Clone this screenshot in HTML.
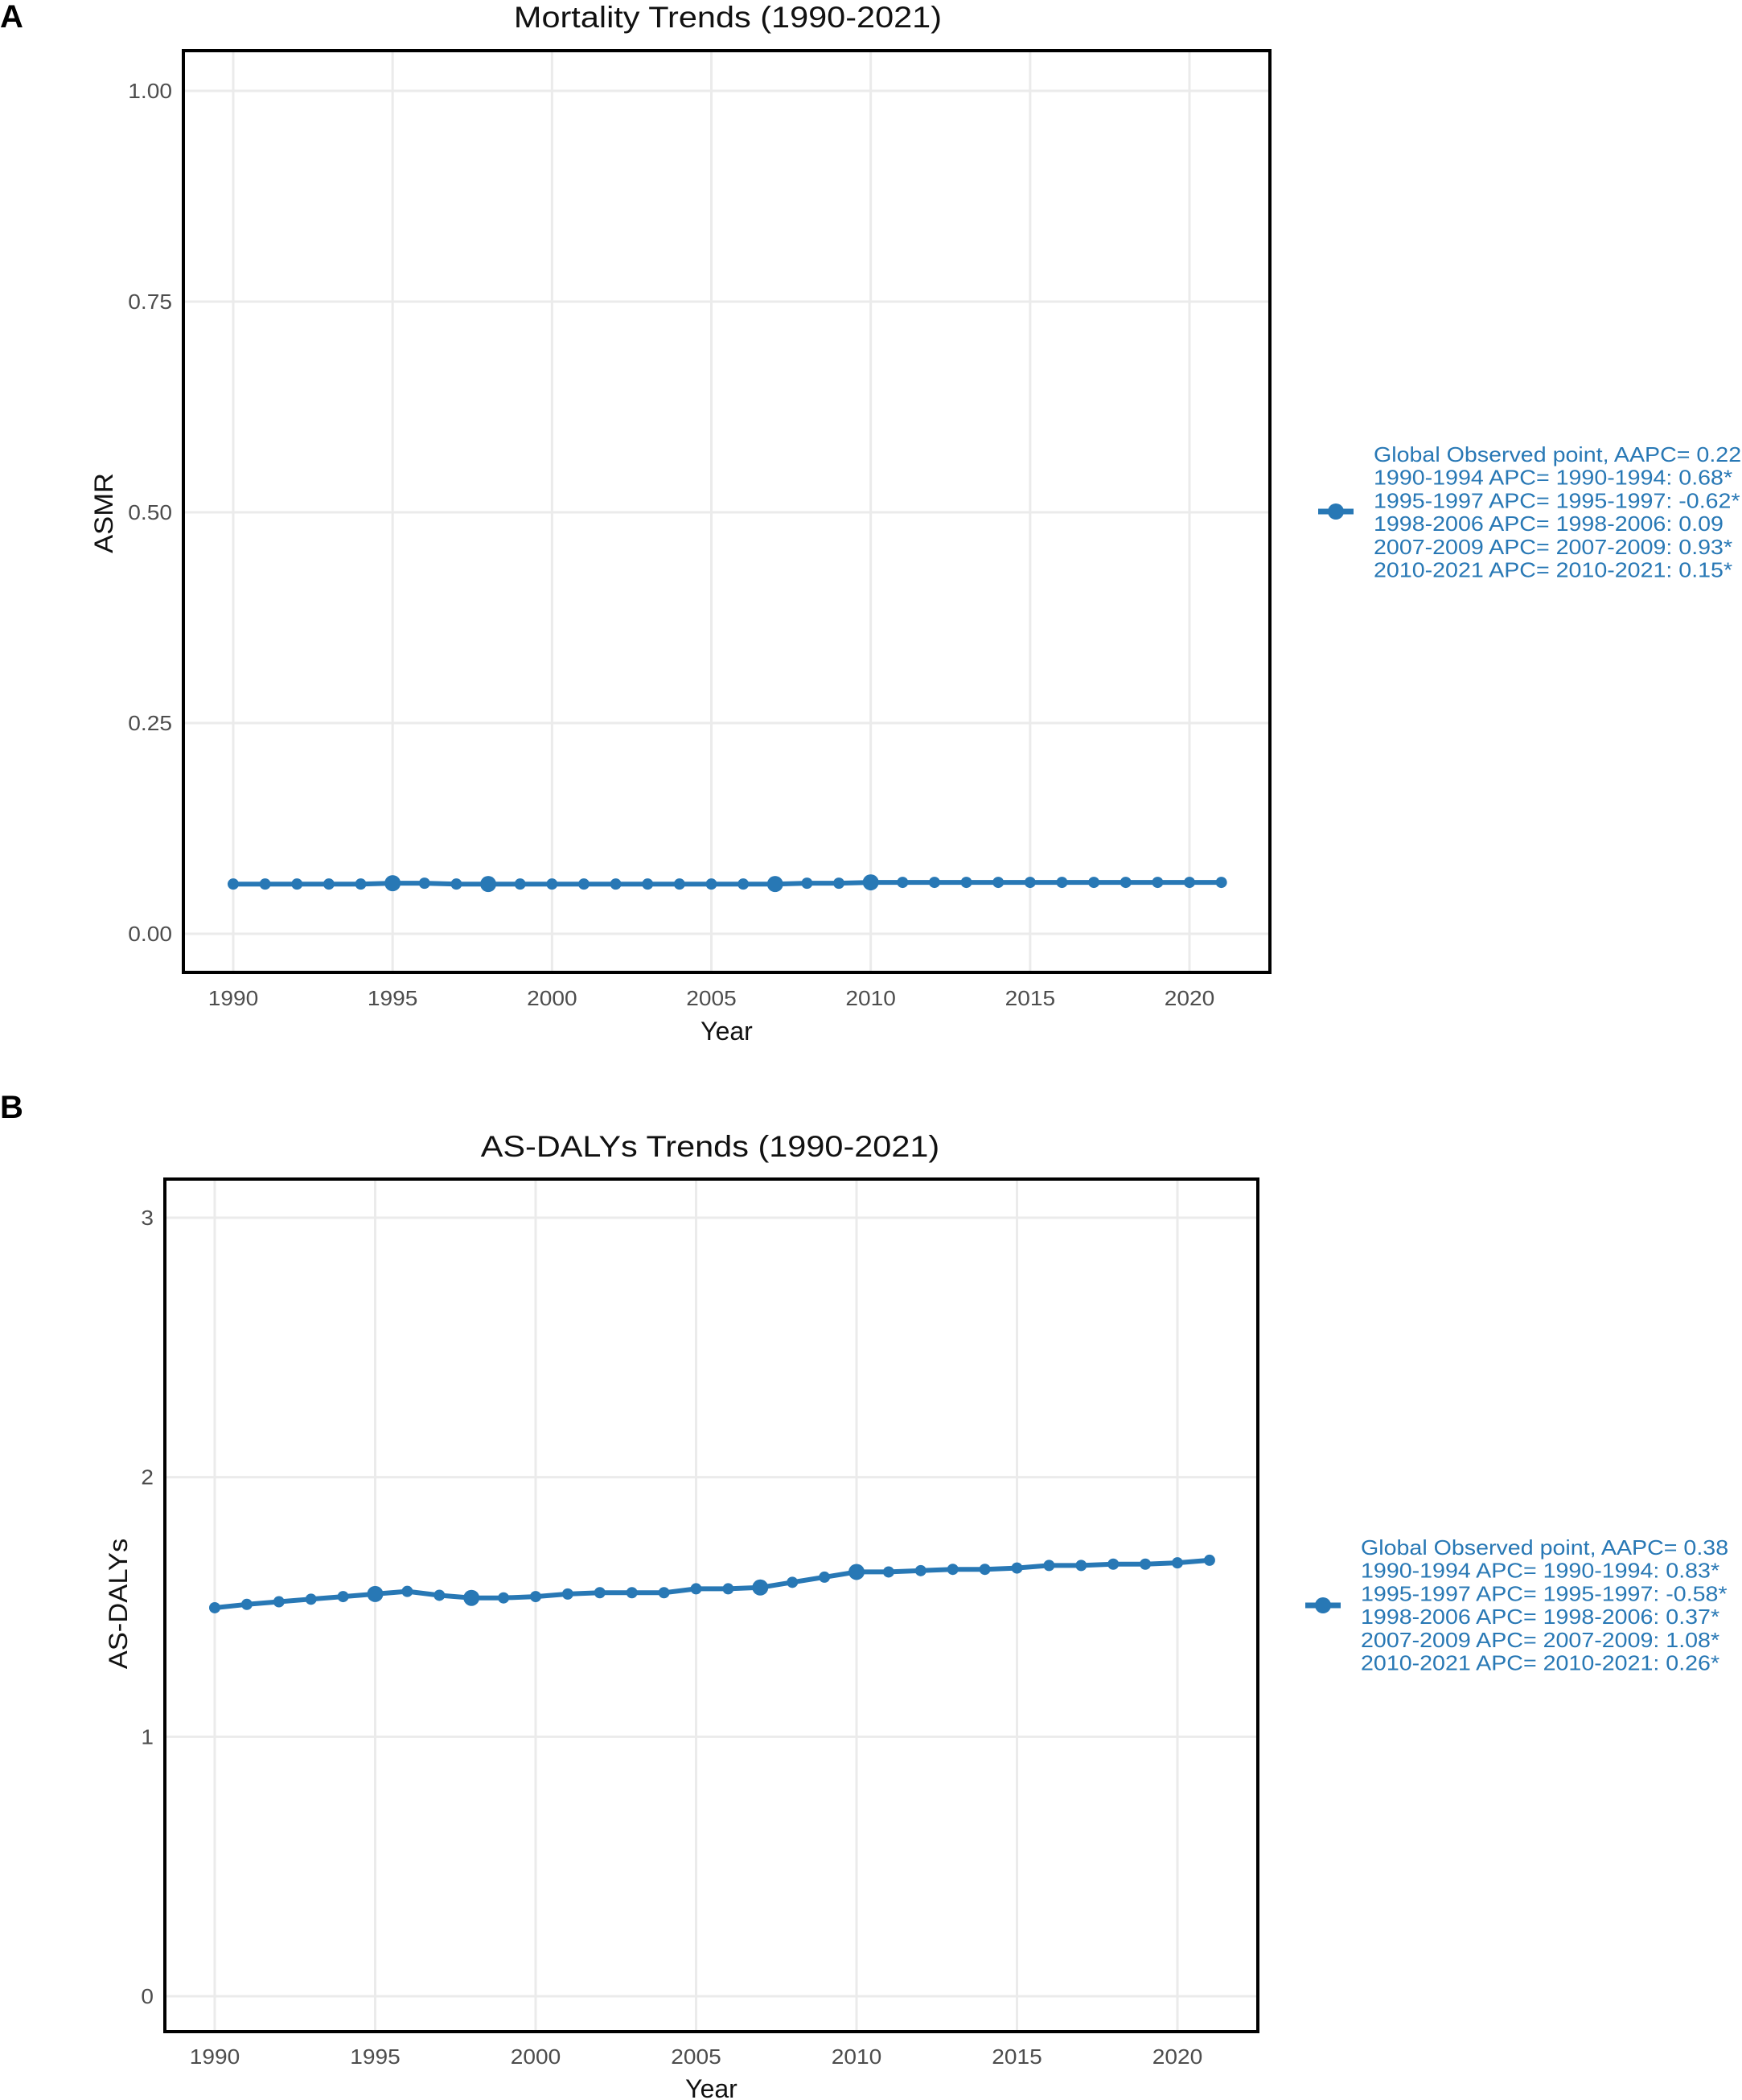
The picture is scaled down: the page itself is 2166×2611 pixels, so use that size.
<!DOCTYPE html>
<html><head><meta charset="utf-8"><style>
html,body{margin:0;padding:0;background:#fff;}
svg{display:block;font-family:"Liberation Sans",Arial,sans-serif;}
</style></head><body>
<svg id="fig" width="2166" height="2611" viewBox="0 0 2166 2611" xmlns="http://www.w3.org/2000/svg">
<rect width="2166" height="2611" fill="#fff"/>
</svg>
<script>
const years = [1990,1991,1992,1993,1994,1995,1996,1997,1998,1999,2000,2001,2002,2003,2004,2005,2006,2007,2008,2009,2010,2011,2012,2013,2014,2015,2016,2017,2018,2019,2020,2021];
const asmrValues = [0.059,0.059,0.059,0.059,0.059,0.060,0.060,0.059,0.059,0.059,0.059,0.059,0.059,0.059,0.059,0.059,0.059,0.059,0.060,0.060,0.061,0.061,0.061,0.061,0.061,0.061,0.061,0.061,0.061,0.061,0.061,0.061];
const dalyValues = [1.497,1.51,1.52,1.53,1.54,1.55,1.56,1.545,1.535,1.535,1.54,1.55,1.555,1.555,1.555,1.57,1.57,1.575,1.595,1.615,1.635,1.635,1.64,1.645,1.645,1.65,1.66,1.66,1.665,1.665,1.67,1.68];
const joinpoints = [1995,1998,2007,2010];
const xTicks = [1990,1995,2000,2005,2010,2015,2020];
const asmrTicks = [0,0.25,0.5,0.75,1.0];
const asmrTickLabels = ["0.00","0.25","0.50","0.75","1.00"];
const dalyTicks = [0,1,2,3];
const dalyTickLabels = ["0","1","2","3"];
const legendA = ["Global Observed point, AAPC= 0.22","1990-1994 APC= 1990-1994: 0.68*","1995-1997 APC= 1995-1997: -0.62*","1998-2006 APC= 1998-2006: 0.09","2007-2009 APC= 2007-2009: 0.93*","2010-2021 APC= 2010-2021: 0.15*"];
const legendB = ["Global Observed point, AAPC= 0.38","1990-1994 APC= 1990-1994: 0.83*","1995-1997 APC= 1995-1997: -0.58*","1998-2006 APC= 1998-2006: 0.37*","2007-2009 APC= 2007-2009: 1.08*","2010-2021 APC= 2010-2021: 0.26*"];

const NS="http://www.w3.org/2000/svg";
const svg=document.getElementById('fig');
const BLUE="#2878b5";
function mk(tag,attrs,parent){const e=document.createElementNS(NS,tag);for(const k in attrs)e.setAttribute(k,attrs[k]);(parent||svg).appendChild(e);return e;}
function stretch(e,f){const L=e.getComputedTextLength();e.setAttribute('textLength',(L*f).toFixed(1));e.setAttribute('lengthAdjust','spacingAndGlyphs');}

function panel(cfg){
  const g=mk('g',{});
  
  
  const xs=v=>cfg.x0+(v-1990)*(cfg.x1-cfg.x0)/30;
  const ys=v=>cfg.y0+(v-cfg.t0)*(cfg.y1-cfg.y0)/(cfg.t1-cfg.t0);
  xTicks.forEach(t=>{const l=mk('line',{x1:xs(t),x2:xs(t),y1:cfg.top+2,y2:cfg.bottom-2,stroke:'#ebebeb','stroke-width':3},g);
    });
  cfg.ticks.forEach(t=>{const l=mk('line',{x1:cfg.left+2,x2:cfg.right-2,y1:ys(t),y2:ys(t),stroke:'#ebebeb','stroke-width':3},g);
    });
  const fr=mk('rect',{x:cfg.left,y:cfg.top,width:cfg.right-cfg.left,height:cfg.bottom-cfg.top,fill:'none',stroke:'#000','stroke-width':4},g);
  
  xTicks.forEach(t=>{const e=mk('text',{x:xs(t),y:cfg.xLabY,'text-anchor':'middle','font-size':26,fill:'#4d4d4d'},g);e.textContent=t;
    stretch(e,1.08);});
  cfg.ticks.forEach((t,i)=>{const e=mk('text',{x:cfg.left-14,y:ys(t)+9,'text-anchor':'end','font-size':26,fill:'#4d4d4d'},g);e.textContent=cfg.tickLabels[i];
    stretch(e,1.08);});
  const ti=mk('text',{x:cfg.titleX,y:cfg.titleY,'text-anchor':'middle','font-size':37,fill:'#111'},g);ti.textContent=cfg.title;
  stretch(ti,1.12);
  const xt=mk('text',{x:(cfg.left+cfg.right)/2,y:cfg.xTitleY,'text-anchor':'middle','font-size':32,fill:'#111'},g);xt.textContent='Year';
  
  const yt=mk('text',{x:0,y:0,'text-anchor':'middle','font-size':32,fill:'#111',transform:`translate(${cfg.yTitleX},${cfg.yTitleY}) rotate(-90)`},g);yt.textContent=cfg.yTitle;
  stretch(yt,1.08);
  const pl=mk('text',{x:0,y:cfg.labelY,'font-size':40,'font-weight':'bold',fill:'#000'},g);pl.textContent=cfg.label;
  
  const d=years.map((y,i)=>(i?'L':'M')+xs(y).toFixed(1)+','+ys(cfg.values[i]).toFixed(1)).join(' ');
  const ln=mk('path',{d:d,fill:'none',stroke:BLUE,'stroke-width':6,'stroke-linejoin':'round'},g);
  
  years.forEach((y,i)=>{const big=joinpoints.includes(y);
    const c=mk('circle',{cx:xs(y),cy:ys(cfg.values[i]),r:big?10:7,fill:BLUE},g);
    });
  const lg=mk('g',{},g);
  const key=mk('line',{x1:cfg.legX-22,x2:cfg.legX+22,y1:cfg.legMY,y2:cfg.legMY,stroke:BLUE,'stroke-width':7},lg);
  
  const kc=mk('circle',{cx:cfg.legX,cy:cfg.legMY,r:10,fill:BLUE},lg);
  
  cfg.legend.forEach((s,i)=>{const e=mk('text',{x:cfg.legTX,y:cfg.legTY+i*28.7,'font-size':26,fill:BLUE},lg);e.textContent=s;
    stretch(e,1.1);});
}

panel({name:'panel-a-mortality',left:228,right:1579,top:63,bottom:1209,x0:290,x1:1479,y0:1161,y1:375,t0:0,t1:0.75,
  ticks:asmrTicks,tickLabels:asmrTickLabels,values:asmrValues,xLabY:1250,xTitleY:1293,yTitleX:140,yTitleY:638,yTitle:'ASMR',
  title:'Mortality Trends (1990-2021)',titleX:905,titleY:34,label:'A',labelY:34,
  legend:legendA,legX:1661,legMY:636,legTX:1708,legTY:574});
panel({name:'panel-b-dalys',left:205,right:1564,top:1466,bottom:2526,x0:267,x1:1464,y0:2482,y1:1514,t0:0,t1:3,
  ticks:dalyTicks,tickLabels:dalyTickLabels,values:dalyValues,xLabY:2566,xTitleY:2608,yTitleX:158,yTitleY:1994,yTitle:'AS-DALYs',
  title:'AS-DALYs Trends (1990-2021)',titleX:883,titleY:1438,label:'B',labelY:1390,
  legend:legendB,legX:1645,legMY:1996,legTX:1692,legTY:1933});
</script>
</body></html>
